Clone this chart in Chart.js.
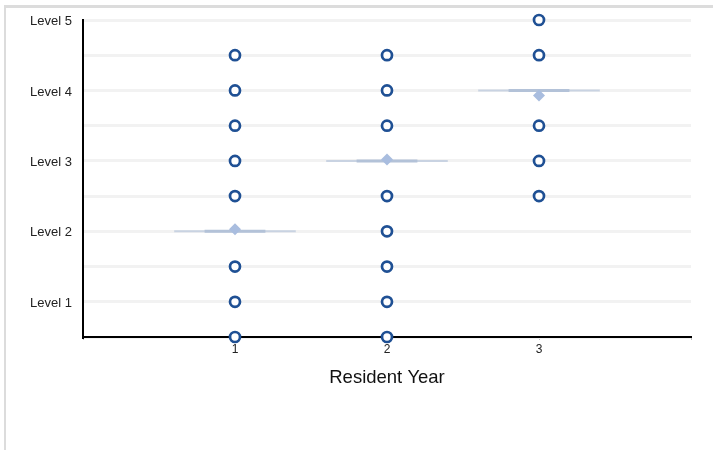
<!DOCTYPE html>
<html>
<head>
<meta charset="utf-8">
<script src="https://cdn.jsdelivr.net/npm/chart.js@4"></script>
<style>
  html, body { margin: 0; padding: 0; background: #fff; }
  #wrap { position: relative; width: 713px; height: 450px; overflow: hidden; }
  #frame { position: absolute; left: 4px; top: 5px; width: 800px; height: 500px;
           border-left: 2px solid #dcdcdc; border-top: 3px solid #dcdcdc; }
  canvas { position: absolute; left: 0; top: 0; }
</style>
</head>
<body>
<div id="wrap">
  <div id="frame"></div>
  <canvas id="c" width="713" height="450"></canvas>
</div>
<script>
// Resident years (x categories)
const years = [1, 2, 3];
// Individual observed levels per resident year
const year1Levels = [0.5, 1, 1.5, 2.5, 3, 3.5, 4, 4.5];
const year2Levels = [0.5, 1, 1.5, 2, 2.5, 3.5, 4, 4.5];
const year3Levels = [2.5, 3, 3.5, 4.5, 5];
// Summary per year
const medians = [2, 3, 4];
const means = [2.03, 3.02, 3.93];
// Y tick labels
const levelLabels = { 1: 'Level 1', 2: 'Level 2', 3: 'Level 3', 4: 'Level 4', 5: 'Level 5' };

const pointSets = [year1Levels, year2Levels, year3Levels];
const points = [];
pointSets.forEach((arr, i) => arr.forEach(v => points.push({ x: years[i], y: v })));

const datasets = [];
// median wide lines
years.forEach((yr, i) => {
  datasets.push({
    type: 'line',
    data: [{ x: yr - 0.4, y: medians[i] }, { x: yr + 0.4, y: medians[i] }],
    borderColor: '#c9d3e2', borderWidth: 2, pointRadius: 0, clip: false, order: 5
  });
  datasets.push({
    type: 'line',
    data: [{ x: yr - 0.2, y: medians[i] }, { x: yr + 0.2, y: medians[i] }],
    borderColor: '#b3c2d8', borderWidth: 3, pointRadius: 0, clip: false, order: 4
  });
});
// means as diamonds
datasets.push({
  type: 'scatter',
  data: years.map((yr, i) => ({ x: yr, y: means[i] })),
  pointStyle: 'rectRot', pointRadius: 6, pointHoverRadius: 6,
  backgroundColor: '#a9bddf', borderColor: '#a9bddf', borderWidth: 0, clip: false, order: 3
});
// individual points
datasets.push({
  type: 'scatter',
  data: points,
  pointStyle: 'circle', pointRadius: 5, pointHoverRadius: 5,
  backgroundColor: '#ffffff', borderColor: '#1f5094', borderWidth: 2.7, clip: false, order: 1
});

new Chart(document.getElementById('c'), {
  type: 'scatter',
  data: { datasets },
  options: {
    responsive: false,
    animation: false,
    events: [],
    layout: { padding: { left: 0, right: 22, top: 20, bottom: 61 } },
    plugins: { legend: { display: false }, tooltip: { enabled: false } },
    scales: {
      x: {
        type: 'linear', min: 0, max: 4,
        afterFit: s => { s.height = 52; },
        ticks: {
          stepSize: 1, autoSkip: false, maxRotation: 0, padding: 2,
          color: '#222', font: { family: 'Liberation Sans, Arial, sans-serif', size: 12 },
          callback: v => (v >= 1 && v <= 3) ? String(v) : ''
        },
        grid: { drawOnChartArea: false, tickLength: 3, tickColor: '#c0c0c0', color: '#c0c0c0' },
        border: { display: true, color: '#000', width: 2 },
        title: {
          display: true, text: 'Resident Year', color: '#111',
          font: { family: 'Liberation Sans, Arial, sans-serif', size: 18.5 },
          padding: { top: 0, bottom: 0 }
        }
      },
      y: {
        type: 'linear', min: 0.5, max: 5,
        afterFit: s => { s.width = 83; },
        ticks: {
          stepSize: 0.5, autoSkip: false, padding: 11, labelOffset: 1.5,
          color: '#222', font: { family: 'Liberation Sans, Arial, sans-serif', size: 13 },
          callback: v => levelLabels[v] || ''
        },
        grid: { color: '#f2f2f2', lineWidth: 3, drawTicks: false },
        border: { display: true, color: '#000', width: 2 }
      }
    }
  }
});
</script>
</body>
</html>
